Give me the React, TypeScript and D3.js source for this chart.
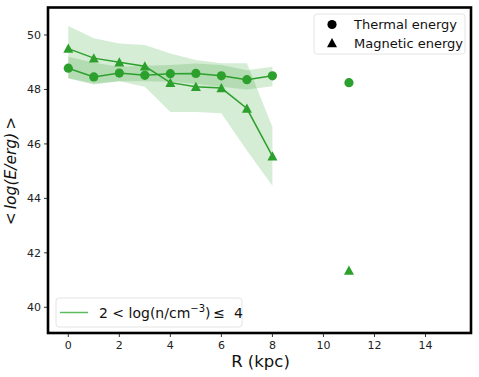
import * as d3 from "d3";

// radii in kpc
const radii = [0, 1, 2, 3, 4, 5, 6, 7, 8];
const outerRadius = 11;

// thermal energy: mean and band
const thermal = [48.78, 48.46, 48.6, 48.52, 48.58, 48.59, 48.5, 48.36, 48.5];
const thermalLo = [48.41, 48.22, 48.3, 48.3, 48.28, 48.2, 48.1, 48.0, 48.12];
const thermalHi = [49.2, 48.98, 48.83, 48.87, 48.9, 48.95, 48.9, 48.71, 48.83];
const thermalOuter = 48.25;

// magnetic energy: mean and band
const magnetic = [49.5, 49.15, 49.0, 48.85, 48.25, 48.1, 48.05, 47.3, 45.55];
const magneticLo = [48.4, 48.18, 48.3, 48.1, 47.17, 47.17, 47.13, 45.76, 44.46];
const magneticHi = [50.33, 49.88, 49.69, 49.63, 49.32, 49.08, 48.96, 48.96, 46.62];
const magneticOuter = 41.35;

const xTicks = [0, 2, 4, 6, 8, 10, 12, 14];
const yTicks = [40, 42, 44, 46, 48, 50];

const green = "#2ca02c";

export default function App() {
  const width = 479;
  const height = 377;
  const left = 48, right = 471, top = 7.5, bottom = 333;

  const x = d3.scaleLinear().domain([0, 14]).range([68.3, 425.5]);
  const y = d3.scaleLinear().domain([40, 50]).range([307.3, 35]);

  const area = (lo: number[], hi: number[]) =>
    d3
      .area<number>()
      .x((d) => x(d))
      .y0((_, i) => y(lo[i]))
      .y1((_, i) => y(hi[i]))(radii) || "";

  const line = (vals: number[]) =>
    d3
      .line<number>()
      .x((_, i) => x(radii[i]))
      .y((d) => y(d))(vals) || "";

  // matplotlib-style "^" marker
  const tri = (cx: number, cy: number, s = 5) =>
    `M${cx},${cy - s}L${cx - s},${cy + s * 0.85}L${cx + s},${cy + s * 0.85}Z`;

  return (
    <svg
      width={width}
      height={height}
      style={{ position: "absolute", left: 0, top: 0, fontFamily: "DejaVu Sans" }}
    >
      <rect width={width} height={height} fill="white" />
      <path d={area(magneticLo, magneticHi)} fill={green} fillOpacity={0.2} />
      <path d={area(thermalLo, thermalHi)} fill={green} fillOpacity={0.2} />
      <path d={line(thermal)} fill="none" stroke={green} strokeWidth={1.5} />
      <path d={line(magnetic)} fill="none" stroke={green} strokeWidth={1.5} />
      {thermal.map((v, i) => (
        <circle key={"t" + i} cx={x(radii[i])} cy={y(v)} r={4.6} fill={green} />
      ))}
      <circle cx={x(outerRadius)} cy={y(thermalOuter)} r={4.6} fill={green} />
      {magnetic.map((v, i) => (
        <path key={"m" + i} d={tri(x(radii[i]), y(v))} fill={green} />
      ))}
      <path d={tri(x(outerRadius), y(magneticOuter))} fill={green} />

      {/* x axis */}
      {xTicks.map((t) => (
        <g key={"x" + t}>
          <line x1={x(t)} x2={x(t)} y1={bottom} y2={bottom + 4} stroke="black" strokeWidth={0.8} />
          <text x={x(t)} y={bottom + 16} textAnchor="middle" fontSize={11} fill="#222">
            {t}
          </text>
        </g>
      ))}
      {/* y axis */}
      {yTicks.map((t) => (
        <g key={"y" + t}>
          <line x1={left - 4} x2={left} y1={y(t)} y2={y(t)} stroke="black" strokeWidth={0.8} />
          <text x={left - 7} y={y(t) + 4} textAnchor="end" fontSize={11} fill="#222">
            {t}
          </text>
        </g>
      ))}

      <rect
        x={left}
        y={top}
        width={right - left}
        height={bottom - top}
        fill="none"
        stroke="black"
        strokeWidth={2.6}
      />

      <text x={260.5} y={367} textAnchor="middle" fontSize={16.5} fill="#111">
        R (kpc)
      </text>
      <text
        transform="translate(16,171) rotate(-90)"
        textAnchor="middle"
        fontSize={15.5}
        fill="#111"
      >
        {"<\u2009"}
        <tspan fontStyle="italic">log(E/erg)</tspan>
        {"\u2009>"}
      </text>

      {/* marker legend */}
      <rect x={314} y={14} width={151} height={40} rx={3} fill="white" fillOpacity={0.8} stroke="#ddd" strokeWidth={0.8} />
      <circle cx={332} cy={24.5} r={4.6} fill="black" />
      <text x={354} y={29} fontSize={13} fill="#111">Thermal energy</text>
      <path d={tri(332, 43)} fill="black" />
      <text x={354} y={48} fontSize={13} fill="#111">Magnetic energy</text>

      {/* density legend */}
      <rect x={56} y={298} width={186} height={29} rx={3} fill="white" fillOpacity={0.8} stroke="#ddd" strokeWidth={0.8} />
      <line x1={60} x2={88} y1={312.5} y2={312.5} stroke="#5cbb5c" strokeWidth={1.5} />
      <text x={99} y={318} fontSize={14} fill="#111">
        {"2 < log(n/cm"}
        <tspan fontSize={10} dy={-6}>{"\u22123"}</tspan>
        <tspan dy={6}>{")\u2009\u2264\u00a0\u00a04"}</tspan>
      </text>
    </svg>
  );
}
